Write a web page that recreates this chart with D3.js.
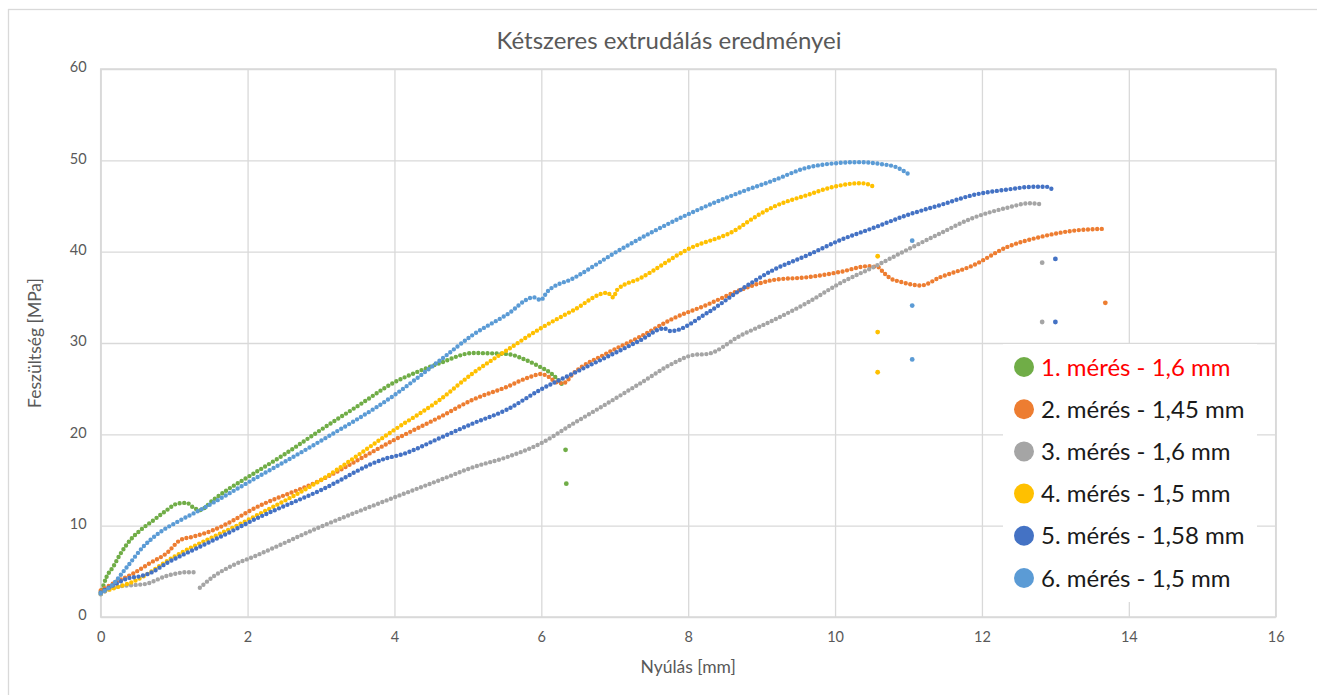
<!DOCTYPE html>
<html>
<head>
<meta charset="utf-8">
<script src="https://cdn.jsdelivr.net/npm/d3@7"></script>
<style>
  html, body { margin: 0; padding: 0; background: #fff; }
  svg { display: block; font-family: Lato, "Open Sans", sans-serif; }
</style>
</head>
<body>
<svg id="chart" width="1317" height="695"></svg>
<script>
// Tensile test results: elongation [mm] vs stress [MPa]
const chartTitle = "Kétszeres extrudálás eredményei";
const xAxisTitle = "Nyúlás [mm]";
const yAxisTitle = "Feszültség [MPa]";
const xTicks = [0, 2, 4, 6, 8, 10, 12, 14, 16];
const yTicks = [0, 10, 20, 30, 40, 50, 60];

const seriesNames = [
  "1. mérés - 1,6 mm",
  "2. mérés - 1,45 mm",
  "3. mérés - 1,6 mm",
  "4. mérés - 1,5 mm",
  "5. mérés - 1,58 mm",
  "6. mérés - 1,5 mm"
];
const seriesColors = ["#70AD47", "#ED7D31", "#A5A5A5", "#FFC000", "#4472C4", "#5B9BD5"];

// 1. mérés
const m1X = [0, 0.08, 0.17, 0.26, 0.4, 0.54, 0.72, 0.9, 1.04, 1.17, 1.26, 1.35, 1.53, 1.72, 2.0, 2.5, 3.0, 3.5, 4.0, 4.3, 4.62, 5.07, 5.53, 5.8, 5.98, 6.16, 6.28];
const m1Y = [2.5, 4.4, 5.5, 6.8, 8.4, 9.5, 10.6, 11.7, 12.4, 12.5, 12.0, 11.7, 12.8, 13.9, 15.3, 17.8, 20.5, 23.1, 25.7, 26.8, 27.8, 28.9, 28.8, 28.1, 27.4, 26.5, 25.5];
const m1BreakX = [6.33, 6.34];
const m1BreakY = [18.3, 14.6];

// 2. mérés
const m2X = [0, 0.2, 0.45, 0.67, 0.9, 1.08, 1.26, 1.53, 1.81, 2.0, 3.0, 4.0, 4.62, 5.07, 5.53, 5.85, 5.99, 6.12, 6.2, 6.3, 6.44, 6.9, 7.35, 7.8, 8.26, 8.71, 9.16, 9.62, 10.08, 10.44, 10.59, 10.65, 10.75, 10.89, 11.17, 11.43, 11.88, 12.34, 12.79, 13.25, 13.66];
const m2Y = [2.9, 3.8, 4.8, 5.9, 7.0, 8.4, 8.8, 9.5, 10.6, 11.5, 15.0, 19.4, 21.9, 23.8, 25.2, 26.3, 26.6, 26.2, 25.7, 25.6, 26.7, 28.9, 30.7, 32.7, 34.2, 35.8, 36.9, 37.2, 37.8, 38.4, 38.3, 37.8, 37.1, 36.7, 36.3, 37.2, 38.5, 40.5, 41.6, 42.3, 42.5];
const m2BreakX = [13.68];
const m2BreakY = [34.4];

// 3. mérés (the record restarts after a slip at ~1.3 mm)
const m3aX = [0, 0.13, 0.3, 0.45, 0.6, 0.9, 1.17, 1.31];
const m3aY = [2.5, 3.1, 3.4, 3.5, 3.6, 4.5, 4.9, 4.9];
const m3bX = [1.35, 1.53, 1.81, 2.08, 3.0, 4.0, 4.62, 5.07, 5.53, 5.99, 6.44, 6.9, 7.35, 7.8, 8.08, 8.26, 8.71, 9.16, 9.62, 10.08, 10.52, 10.98, 11.43, 11.88, 12.34, 12.65, 12.8];
const m3bY = [3.2, 4.4, 5.7, 6.6, 9.9, 13.1, 15.0, 16.4, 17.5, 19.0, 21.2, 23.4, 25.6, 27.8, 28.7, 28.8, 30.8, 32.5, 34.4, 36.6, 38.3, 40.2, 42.0, 43.7, 44.8, 45.3, 45.2];
const m3BreakX = [12.82, 12.82];
const m3BreakY = [38.8, 32.3];

// 4. mérés
const m4X = [0, 0.2, 0.45, 1.0, 2.0, 3.0, 4.0, 4.62, 5.07, 5.53, 5.99, 6.44, 6.9, 6.98, 7.03, 7.35, 7.98, 8.71, 8.78, 9.16, 9.62, 9.98, 10.34, 10.48, 10.55];
const m4Y = [2.7, 3.2, 3.9, 6.6, 10.6, 15.0, 20.5, 23.8, 26.7, 29.2, 31.6, 33.6, 35.5, 35.0, 35.8, 37.1, 40.2, 42.7, 43.1, 44.9, 46.2, 47.1, 47.5, 47.3, 46.9];
const m4BreakX = [10.58, 10.58, 10.58];
const m4BreakY = [39.5, 31.2, 26.8];

// 5. mérés
const m5X = [0, 0.2, 0.4, 0.5, 0.67, 0.9, 1.35, 1.81, 2.0, 3.0, 3.9, 4.1, 4.62, 5.07, 5.53, 5.99, 6.44, 6.9, 7.35, 7.67, 7.76, 8.26, 8.71, 9.16, 9.62, 10.08, 10.52, 10.98, 11.43, 11.88, 12.34, 12.7, 12.88, 12.99];
const m5Y = [2.7, 3.6, 4.3, 4.4, 4.8, 5.9, 7.7, 9.5, 10.3, 13.9, 17.4, 17.8, 19.6, 21.2, 22.7, 24.9, 26.7, 28.5, 30.3, 31.6, 31.3, 33.3, 35.8, 38.0, 39.6, 41.3, 42.6, 44.0, 45.1, 46.2, 46.8, 47.1, 47.1, 46.6];
const m5BreakX = [13.0, 13.0];
const m5BreakY = [39.2, 32.3];

// 6. mérés
const m6X = [0, 0.13, 0.36, 0.58, 0.81, 1.04, 1.35, 2.0, 3.0, 4.0, 4.62, 5.07, 5.53, 5.9, 5.99, 6.08, 6.44, 7.07, 8.0, 8.71, 9.16, 9.62, 10.03, 10.3, 10.62, 10.85, 11.0];
const m6Y = [2.6, 3.3, 5.5, 7.7, 9.3, 10.4, 11.7, 14.7, 19.3, 24.3, 28.1, 30.9, 33.1, 35.0, 34.7, 35.6, 37.1, 40.2, 44.1, 46.5, 47.8, 49.2, 49.7, 49.8, 49.6, 49.2, 48.5];
const m6BreakX = [11.05, 11.05, 11.05];
const m6BreakY = [41.2, 34.1, 28.2];

const zip = (xs, ys) => xs.map((x, i) => [x, ys[i]]);

const series = [
  { segments: [zip(m1X, m1Y)], breaks: zip(m1BreakX, m1BreakY) },
  { segments: [zip(m2X, m2Y)], breaks: zip(m2BreakX, m2BreakY) },
  { segments: [zip(m3aX, m3aY), zip(m3bX, m3bY)], breaks: zip(m3BreakX, m3BreakY) },
  { segments: [zip(m4X, m4Y)], breaks: zip(m4BreakX, m4BreakY) },
  { segments: [zip(m5X, m5Y)], breaks: zip(m5BreakX, m5BreakY) },
  { segments: [zip(m6X, m6Y)], breaks: zip(m6BreakX, m6BreakY) }
].map((s, i) => ({ ...s, name: seriesNames[i], color: seriesColors[i] }));

const svg = d3.select("#chart");
const W = 1317, H = 695;
const plot = { left: 100.7, right: 1275.7, top: 69, bottom: 617 };

const x = d3.scaleLinear().domain([0, 16]).range([plot.left, plot.right]);
const y = d3.scaleLinear().domain([0, 60]).range([plot.bottom, plot.top]);

// chart area frame
svg.append("rect")
  .attr("x", 8.5).attr("y", 9.5)
  .attr("width", W + 10).attr("height", H + 10)
  .attr("fill", "#fff").attr("stroke", "#d9d9d9").attr("stroke-width", 1.3);

// title
svg.append("text")
  .attr("x", 669).attr("y", 49)
  .attr("text-anchor", "middle")
  .attr("fill", "#595959")
  .style("font-size", "24px")
  .text(chartTitle);

// gridlines via axes
const gridColor = "#d9d9d9";
const gx = svg.append("g")
  .attr("transform", `translate(0,${plot.bottom})`)
  .call(d3.axisBottom(x).tickValues(xTicks).tickSize(-(plot.bottom - plot.top)).tickFormat(""));
const gy = svg.append("g")
  .attr("transform", `translate(${plot.left},0)`)
  .call(d3.axisLeft(y).tickValues(yTicks).tickSize(-(plot.right - plot.left)).tickFormat(""));
[gx, gy].forEach(g => {
  g.select(".domain").remove();
  g.selectAll(".tick line").attr("stroke", gridColor).attr("stroke-width", 1.3);
});

// plot border
svg.append("rect")
  .attr("x", plot.left).attr("y", plot.top)
  .attr("width", plot.right - plot.left).attr("height", plot.bottom - plot.top)
  .attr("fill", "none").attr("stroke", gridColor).attr("stroke-width", 1.5);

// tick labels
const xl = svg.append("g")
  .attr("transform", `translate(0,${plot.bottom})`)
  .call(d3.axisBottom(x).tickValues(xTicks).tickSize(0).tickPadding(16).tickFormat(d3.format("d")));
const yl = svg.append("g")
  .attr("transform", `translate(${plot.left},0)`)
  .call(d3.axisLeft(y).tickValues(yTicks).tickSize(0).tickPadding(14).tickFormat(d3.format("d")));
[xl, yl].forEach(g => {
  g.select(".domain").remove();
  g.selectAll("text").attr("fill", "#595959").style("font-size", "14.5px").style("font-family", "Lato, sans-serif");
});
yl.selectAll("text").attr("dy", "0.2em");
xl.selectAll("text").attr("dy", "0.62em");

// axis titles
svg.append("text")
  .attr("x", (plot.left + plot.right) / 2).attr("y", 667)
  .attr("dy", "0.35em")
  .attr("text-anchor", "middle").attr("fill", "#595959")
  .style("font-size", "17.5px")
  .text(xAxisTitle);
svg.append("text")
  .attr("transform", `translate(35,${(plot.top + plot.bottom) / 2}) rotate(-90)`)
  .attr("dy", "0.35em")
  .attr("text-anchor", "middle").attr("fill", "#595959")
  .style("font-size", "17.5px")
  .text(yAxisTitle);

// measurement series: dense markers rendered as a beaded stroke
const line = d3.line().x(d => x(d[0])).y(d => y(d[1])).curve(d3.curveMonotoneX);
const gs = svg.append("g");
series.forEach(s => {
  const g = gs.append("g");
  s.segments.forEach(seg => {
    g.append("path")
      .attr("d", line(seg))
      .attr("fill", "none")
      .attr("stroke", s.color)
      .attr("stroke-width", 4.4)
      .attr("stroke-linecap", "round")
      .attr("stroke-dasharray", "0 4.6");
  });
  g.selectAll("circle.brk").data(s.breaks).join("circle")
    .attr("class", "brk")
    .attr("cx", d => x(d[0])).attr("cy", d => y(d[1]))
    .attr("r", 2.4).attr("fill", s.color);
});

// legend
const legend = svg.append("g");
legend.append("rect")
  .attr("x", 1003).attr("y", 344).attr("width", 254).attr("height", 258)
  .attr("fill", "#fff");
const rowY = i => 367 + i * 42.2;
series.forEach((s, i) => {
  legend.append("circle")
    .attr("cx", 1024).attr("cy", rowY(i)).attr("r", 10)
    .attr("fill", s.color);
  legend.append("text")
    .attr("x", 1041).attr("y", rowY(i))
    .attr("dy", "0.36em")
    .attr("fill", i === 0 ? "#FF0000" : "#1a1a1a")
    .style("font-size", "24px")
    .text(s.name);
});
</script>
</body>
</html>
